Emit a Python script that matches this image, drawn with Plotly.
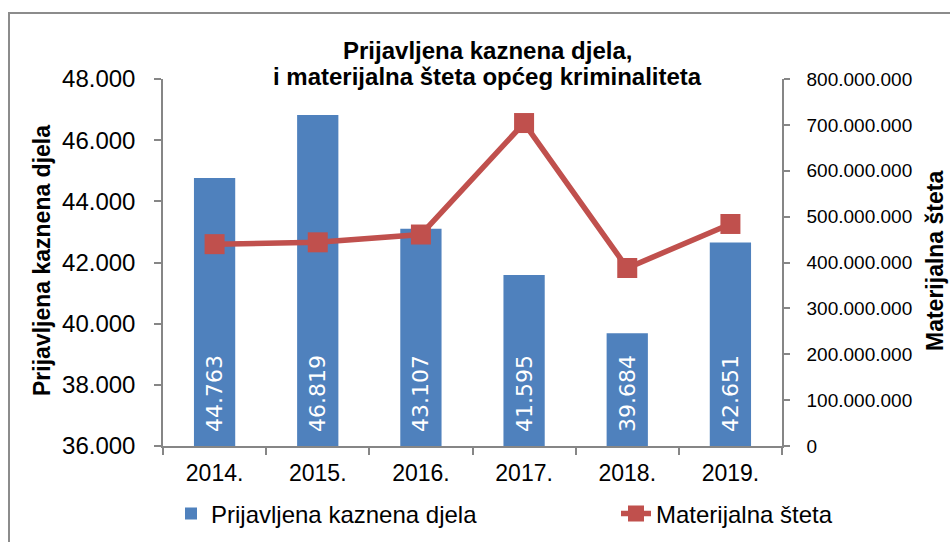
import plotly.graph_objects as go

years = ["2014.", "2015.", "2016.", "2017.", "2018.", "2019."]
crimes = [44763, 46819, 43107, 41595, 39684, 42651]
damage = [440000000, 444000000, 461000000, 704000000, 388000000, 484000000]
left_min, left_max = 36000, 48000

bar_name = "Prijavljena kaznena djela"
line_name = "Materijalna šteta"
title_l1 = "Prijavljena kaznena djela,"
title_l2 = "i materijalna šteta općeg kriminaliteta"

BLUE = "#4F81BD"
RED = "#C0504D"
AXIS = "#868686"
FONT = "Liberation Sans, Arial, sans-serif"

# window pixels; body margin is removed so figure starts at (0,0)
W, H = 950, 542
PL, PR, PT, PB = 163, 782, 79, 446   # plot area in window pixels
L, T, R, B = PL, PT, W - PR, H - PB
pw, ph = PR - PL, PB - PT

def px(x):
    return (x - PL) / pw

def py(y):
    return 1 + (PT - y) / ph

fig = go.Figure()
fig.add_trace(go.Bar(
    x=years, y=[v - left_min for v in crimes], base=left_min,
    name=bar_name, marker=dict(color=BLUE, line=dict(width=0)),
    text=["\u2002" + f"{v:,}".replace(",", ".") for v in crimes],
    textposition="inside", insidetextanchor="start", textangle=-90,
    textfont=dict(family="DejaVu Sans, Verdana, sans-serif", size=22, color="white"),
    customdata=crimes, hovertemplate="%{x}: %{customdata:,}<extra></extra>",
    yaxis="y", legend="legend",
))
fig.add_trace(go.Scatter(
    x=years, y=damage, name=line_name, mode="lines+markers",
    line=dict(color=RED, width=5.5),
    marker=dict(symbol="square", size=20, color=RED),
    yaxis="y2", legend="legend2",
))

fig.update_layout(
    width=W, height=H,
    margin=dict(l=L, r=R, t=T, b=B, autoexpand=False),
    paper_bgcolor="white", plot_bgcolor="white",
    separators=",.",
    bargap=0.6,
    showlegend=True,
    font=dict(family=FONT, color="black"),
    xaxis=dict(
        type="category", showline=True, linecolor=AXIS, linewidth=1.5,
        ticks="outside", tickson="boundaries", ticklen=7, tickcolor=AXIS, tickwidth=1.5,
        tickfont=dict(size=23, family=FONT), ticklabelstandoff=6,
        showgrid=False, zeroline=False,
    ),
    yaxis=dict(
        range=[left_min, left_max], dtick=2000, tickformat=",",
        showline=True, linecolor=AXIS, linewidth=1.5,
        ticks="outside", ticklen=7, tickcolor=AXIS, tickwidth=1.5,
        tickfont=dict(size=24, family=FONT), ticklabelstandoff=14,
        showgrid=False, zeroline=False,
    ),
    yaxis2=dict(
        range=[0, 800000000], dtick=100000000, tickformat=",",
        overlaying="y", side="right",
        showline=True, linecolor=AXIS, linewidth=1.5,
        ticks="outside", ticklen=6, tickcolor=AXIS, tickwidth=1.5,
        tickfont=dict(size=19, family=FONT), ticklabelstandoff=13,
        showgrid=False, zeroline=False,
    ),
    legend=dict(
        orientation="h", x=px(171), y=py(514), xanchor="left", yanchor="middle",
        font=dict(size=24, family=FONT), bgcolor="rgba(0,0,0,0)",
    ),
    legend2=dict(
        orientation="h", x=px(616), y=py(514), xanchor="left", yanchor="middle",
        font=dict(size=24, family=FONT), bgcolor="rgba(0,0,0,0)",
    ),
    annotations=[
        dict(text="<b>" + title_l1 + "</b>", x=px(487), y=py(51), xref="paper", yref="paper",
             showarrow=False, xanchor="center", yanchor="middle", font=dict(size=24, family=FONT)),
        dict(text="<b>" + title_l2 + "</b>", x=px(487), y=py(77), xref="paper", yref="paper",
             showarrow=False, xanchor="center", yanchor="middle", font=dict(size=24, family=FONT)),
        dict(text="<b>" + bar_name + "</b>", x=px(42), y=py(261), xref="paper", yref="paper",
             showarrow=False, textangle=-90, xanchor="center", yanchor="middle",
             font=dict(size=23, family=FONT)),
        dict(text="<b>" + line_name + "</b>", x=px(935), y=py(261), xref="paper", yref="paper",
             showarrow=False, textangle=-90, xanchor="center", yanchor="middle",
             font=dict(size=23, family=FONT)),
    ],
    shapes=[
        dict(type="rect", xref="paper", yref="paper", x0=px(9), x1=px(960), y0=py(560), y1=py(13),
             line=dict(color="#8C8C8C", width=2), fillcolor="rgba(0,0,0,0)", layer="below"),
    ],
)

fig.write_html(
    "out.html",
    config={"displayModeBar": False},
    post_script="document.body.style.margin='0';document.body.style.overflow='hidden';",
)
